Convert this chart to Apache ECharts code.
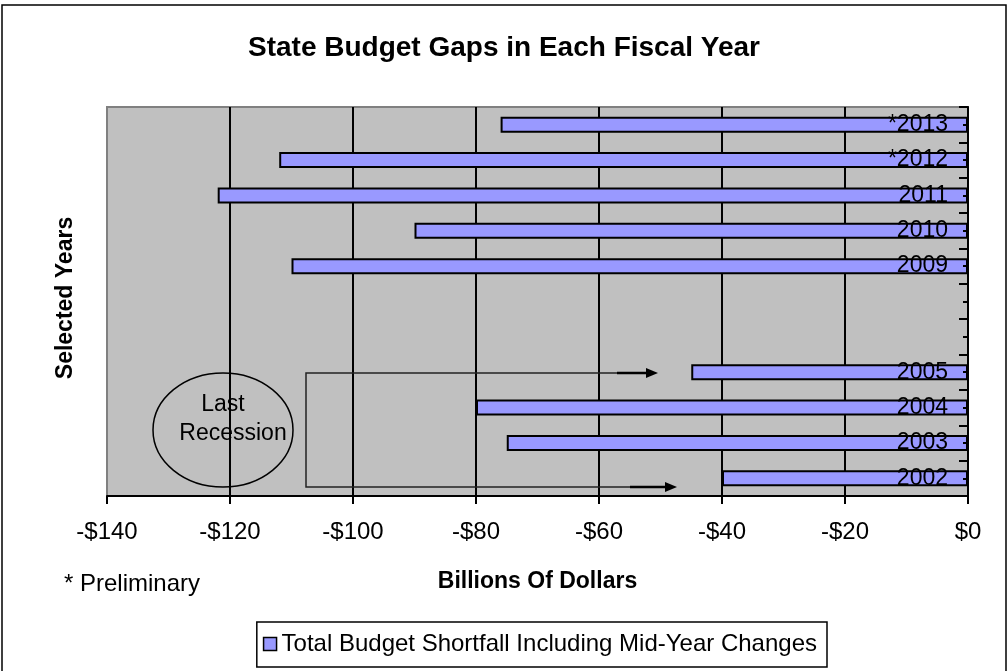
<!DOCTYPE html>
<html>
<head>
<meta charset="utf-8">
<script src="https://cdn.jsdelivr.net/npm/echarts@6/dist/echarts.min.js"></script>
<style>
  html, body { margin: 0; padding: 0; background: #fff; }
  #chart { width: 1007px; height: 671px; }
</style>
</head>
<body>
<div id="chart"></div>
<script>
// categories bottom -> top, two blank slots between 2005 and 2009
const years = ['2002', '2003', '2004', '2005', '', ' ', '2009', '2010', '2011', '*2012', '*2013']
const shortfall = [-40, -75, -80, -45, null, null, -110, -90, -122, -112, -76]
const xTicks = [-140, -120, -100, -80, -60, -40, -20, 0]

const FONT = 'Liberation Sans, Arial, sans-serif'
const chart = echarts.init(document.getElementById('chart'))

const money = v => (v < 0 ? '-$' + (-v) : '$' + v)

chart.setOption({
  animation: false,
  textStyle: { fontFamily: FONT },
  grid: {
    left: 107, right: 39, top: 107, bottom: 175,
    show: true,
    backgroundColor: '#c0c0c0',
    borderColor: '#808080',
    borderWidth: 2,
  },
  legend: {
    right: 180,
    top: 622,
    padding: [10, 10, 11, 6],
    borderColor: '#000',
    borderWidth: 1.5,
    backgroundColor: '#fff',
    itemWidth: 13,
    itemHeight: 13,
    itemGap: 6,
    icon: 'rect',
    itemStyle: { borderColor: '#000', borderWidth: 1.5 },
    textStyle: { fontSize: 24, color: '#000', fontFamily: FONT },
  },
  xAxis: {
    type: 'value',
    min: xTicks[0],
    max: xTicks[xTicks.length - 1],
    interval: 20,
    name: 'Billions Of Dollars',
    nameLocation: 'middle',
    nameGap: 74,
    nameTextStyle: { fontSize: 23, fontWeight: 'bold', color: '#000', fontFamily: FONT },
    axisLine: { show: true, lineStyle: { color: '#000', width: 2 } },
    axisTick: { show: true, length: 8, lineStyle: { color: '#000', width: 2 } },
    axisLabel: { formatter: money, fontSize: 24, color: '#000', margin: 24, fontFamily: FONT },
    splitLine: { show: true, showMinLine: false, lineStyle: { color: '#000', width: 2 } },
  },
  yAxis: [
    {
      type: 'category',
      position: 'right',
      data: years,
      z: 5,
      axisLine: { show: true, lineStyle: { color: '#000', width: 2 } },
      axisTick: { show: true, inside: true, length: 9, lineStyle: { color: '#000', width: 2 } },
      axisLabel: { inside: true, margin: 20, fontSize: 23, color: '#000', fontFamily: FONT },
      splitLine: { show: false },
    },
    {
      type: 'category',
      position: 'right',
      data: years,
      z: 5,
      axisLine: { show: false },
      axisTick: { show: true, inside: true, alignWithLabel: true, length: 5, lineStyle: { color: '#000', width: 2 } },
      axisLabel: { show: false },
      splitLine: { show: false },
    },
  ],
  series: [
    {
      name: 'Total Budget Shortfall Including Mid-Year Changes',
      type: 'bar',
      yAxisIndex: 0,
      barWidth: 16,
      itemStyle: { color: '#9999ff', borderColor: '#000', borderWidth: 2 },
      data: shortfall,
      z: 2,
    },
  ],
  graphic: [
    { type: 'rect', shape: { x: 2, y: 5, width: 1004, height: 700 }, style: { fill: 'none', stroke: '#000', lineWidth: 1.5 }, silent: true },
    { type: 'text', x: 504, y: 48, style: { text: 'State Budget Gaps in Each Fiscal Year', font: 'bold 28px ' + FONT, fill: '#000', textAlign: 'center', textVerticalAlign: 'middle' } },
    { type: 'text', x: 66, y: 298, rotation: Math.PI / 2, style: { text: 'Selected Years', font: 'bold 23px ' + FONT, fill: '#000', textAlign: 'center', textVerticalAlign: 'middle' } },
    { type: 'text', x: 64, y: 584, style: { text: '* Preliminary', font: '24px ' + FONT, fill: '#000', textAlign: 'left', textVerticalAlign: 'middle' } },
    // annotation: ellipse + bracket with arrows
    { type: 'ellipse', shape: { cx: 223, cy: 430, rx: 70, ry: 57 }, style: { fill: 'none', stroke: '#000', lineWidth: 1.5 }, z: 10 },
    { type: 'text', x: 223, y: 405, style: { text: 'Last', font: '23px ' + FONT, fill: '#000', textAlign: 'center', textVerticalAlign: 'middle' }, z: 10 },
    { type: 'text', x: 233, y: 434, style: { text: 'Recession', font: '23px ' + FONT, fill: '#000', textAlign: 'center', textVerticalAlign: 'middle' }, z: 10 },
    { type: 'polyline', shape: { points: [[617, 373], [306, 373], [306, 487], [630, 487]] }, style: { fill: 'none', stroke: '#222', lineWidth: 1.5 }, z: 10 },
    { type: 'line', shape: { x1: 617, y1: 373, x2: 648, y2: 373 }, style: { stroke: '#000', lineWidth: 2.5 }, z: 10 },
    { type: 'polygon', shape: { points: [[646, 368], [658, 373], [646, 378]] }, style: { fill: '#000' }, z: 10 },
    { type: 'line', shape: { x1: 630, y1: 487, x2: 667, y2: 487 }, style: { stroke: '#000', lineWidth: 2.5 }, z: 10 },
    { type: 'polygon', shape: { points: [[665, 482], [677, 487], [665, 492]] }, style: { fill: '#000' }, z: 10 },
  ],
})
</script>
</body>
</html>
